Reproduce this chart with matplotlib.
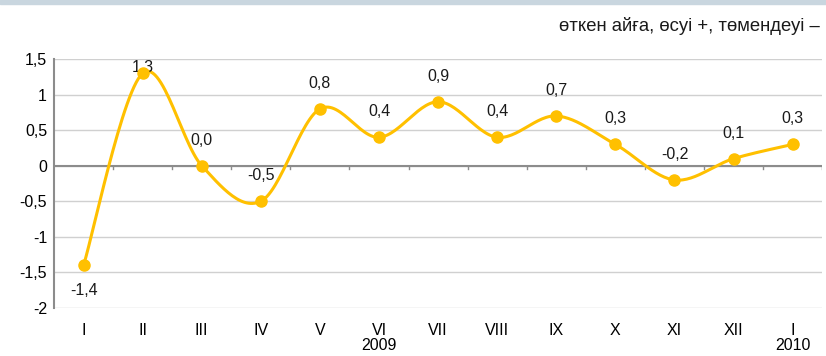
import numpy as np
import matplotlib
matplotlib.use('Agg')
import matplotlib.pyplot as plt
from matplotlib.patches import Rectangle

plt.rcParams['font.family'] = ['Liberation Sans', 'DejaVu Sans']

# monthly change, percent
months = ['I', 'II', 'III', 'IV', 'V', 'VI\n2009', 'VII', 'VIII', 'IX', 'X', 'XI', 'XII', 'I\n2010']
values = [-1.4, 1.3, 0.0, -0.5, 0.8, 0.4, 0.9, 0.4, 0.7, 0.3, -0.2, 0.1, 0.3]
labels = ['-1,4', '1,3', '0,0', '-0,5', '0,8', '0,4', '0,9', '0,4', '0,7', '0,3', '-0,2', '0,1', '0,3']
yticks = [1.5, 1, 0.5, 0, -0.5, -1, -1.5, -2]
ytick_labels = ['1,5', '1', '0,5', '0', '-0,5', '-1', '-1,5', '-2']

color = '#FFC000'
fs = 11.5


def smooth(x, y, n=30):
    # bezier smoothing through the points, like a spreadsheet "smoothed line"
    pts = np.column_stack([x, y]).astype(float)
    out = []
    for i in range(len(pts) - 1):
        p0 = pts[i - 1] if i > 0 else pts[i]
        p1 = pts[i]
        p2 = pts[i + 1]
        p3 = pts[i + 2] if i + 2 < len(pts) else pts[i + 1]
        c1 = p1 + (p2 - p0) / 6
        c2 = p2 - (p3 - p1) / 6
        t = np.linspace(0, 1, n)[:, None]
        seg = ((1 - t) ** 3 * p1 + 3 * (1 - t) ** 2 * t * c1
               + 3 * (1 - t) * t ** 2 * c2 + t ** 3 * p2)
        out.append(seg if i == 0 else seg[1:])
    out = np.vstack(out)
    return out[:, 0], out[:, 1]


fig = plt.figure(figsize=(8.26, 3.56), dpi=100)
fig.patches.append(Rectangle((0, 0.988), 1, 0.012, transform=fig.transFigure,
                             color='#c9d6df', zorder=0))
ax = fig.add_axes([0.0654, 0.135, 0.93, 0.699])

x = np.arange(len(values))
sx, sy = smooth(x, values)
ax.plot(sx, sy, color=color, lw=2.2, zorder=3, clip_on=False)
ax.plot(x, values, 'o', color=color, ms=8, zorder=4, clip_on=False)

for xi, v, lab in zip(x, values, labels):
    if v < -1:
        dy, va = -13, 'top'
    elif v > 1.2:
        dy, va = -1, 'bottom'
    else:
        dy, va = 13, 'bottom'
    ax.annotate(lab, (xi, v), xytext=(0, dy), textcoords='offset points',
                ha='center', va=va, fontsize=fs, color='#1a1a1a')

ax.set_xlim(-0.5, len(values) - 0.5)
ax.set_ylim(-2, 1.5)
ax.set_yticks(yticks)
ax.set_yticklabels(ytick_labels, fontsize=fs)
ax.set_xticks(x)
ax.set_xticklabels(months, fontsize=fs, linespacing=1.0)
ax.tick_params(axis='x', length=0, pad=11)
ax.tick_params(axis='y', length=0, pad=5)
ax.grid(axis='y', color='#d0d0d0', lw=1)
ax.set_axisbelow(True)
for s in ['top', 'right', 'bottom']:
    ax.spines[s].set_visible(False)
ax.spines['left'].set_color('#8c8c8c')
ax.spines['left'].set_linewidth(1.5)

# zero line with small category marks
ax.axhline(0, color='#8c8c8c', lw=1.5, zorder=2)
for b in np.arange(0.5, len(values), 1.0):
    ax.plot([b, b], [0, -0.05], color='#8c8c8c', lw=1, zorder=2)

fig.text(0.992, 0.927, 'өткен айға, өсуі +, төмендеуі –', ha='right', va='center',
         fontsize=13.3, color='#1a1a1a')

fig.savefig('out.png', dpi=100)
